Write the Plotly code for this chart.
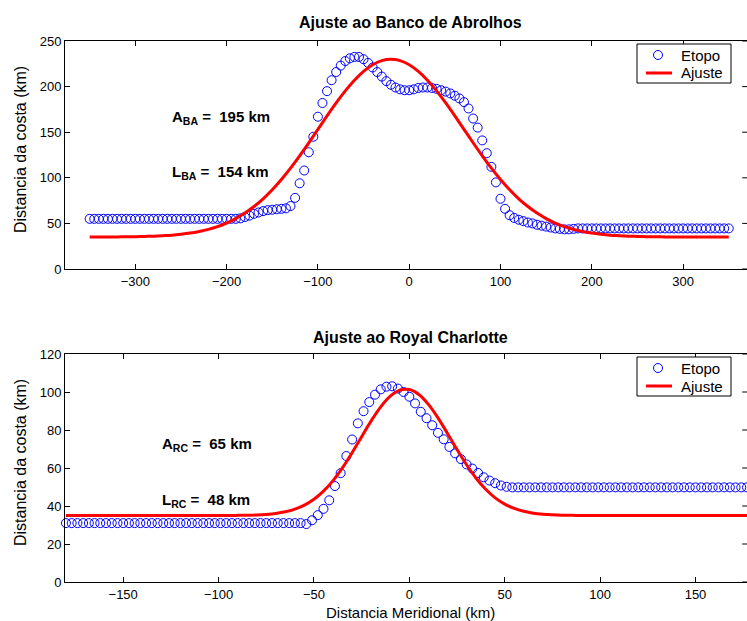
import plotly.graph_objects as go
from plotly.subplots import make_subplots

# ---------------- data ----------------
# Top panel: Banco de Abrolhos
etopo_ba_x = list(range(-350, 355, 5))
etopo_ba_y = ([55] * 33 +
              [55.5, 57, 58.5, 60.5, 62, 63.5, 64.5, 65, 65.5, 66, 66.5, 69,
               78, 94, 108, 128, 145, 167, 182, 195, 207, 216, 223, 228, 231,
               232.5, 232.5, 230, 226, 221, 216, 211, 206, 202, 199, 197, 196,
               196, 197, 198.5, 199, 199, 198.5, 197.5, 196, 194.5, 192.5, 190,
               187, 183, 176, 165, 155, 141, 127, 112, 95, 77, 66, 59, 56, 54,
               52.5, 51, 50, 48.5, 47.5, 46.5, 45.5, 44.5, 44, 43.5, 43.5, 44] +
              [44.5] * 34)

ajuste_ba_x = list(range(-350, 360, 10))
ajuste_ba_y = [35.0, 35.1, 35.1, 35.2, 35.3, 35.4, 35.7, 36.0, 36.5, 37.1, 38.1,
               39.4, 41.2, 43.5, 46.5, 50.4, 55.3, 61.3, 68.5, 77.0, 86.9, 98.1,
               110.6, 124.1, 138.4, 153.1, 167.9, 182.1, 195.3, 207.0, 216.7,
               224.0, 228.5, 230.0, 228.5, 224.0, 216.7, 207.0, 195.3, 182.1,
               167.9, 153.1, 138.4, 124.1, 110.6, 98.1, 86.9, 77.0, 68.5, 61.3,
               55.3, 50.4, 46.5, 43.5, 41.2, 39.4, 38.1, 37.1, 36.5, 36.0, 35.7,
               35.4, 35.3, 35.2, 35.1, 35.1, 35.0, 35.0, 35.0, 35.0, 35.0]

# Bottom panel: Royal Charlotte
etopo_rc_x = list(range(-180, 183, 3))
etopo_rc_y = ([31] * 42 +
              [30.5, 32.5, 35.2, 38.5, 43, 50.5, 57.3, 66.3, 75, 83.5, 89.9,
               94.7, 98.6, 101.4, 102.8, 103, 101.8, 100, 97.5, 94, 89.6, 86.2,
               82.5, 78.5, 75.1, 71.1, 67.7, 64.7, 61.9, 59.7, 57.4, 55.1, 53.4,
               52, 50.8, 50.1] +
              [49.8] * 43)

ajuste_rc_x = list(range(-180, 185, 5))
ajuste_rc_y = ([35.0] * 18 +
               [35.07, 35.14, 35.29, 35.58, 36.08, 36.94, 38.32, 40.44, 43.53,
                47.8, 53.36, 60.2, 68.06, 76.5, 84.8, 92.2, 97.8, 101.0, 101.3,
                98.7, 93.5, 86.4, 78.2, 69.7, 61.7, 54.6, 48.8, 44.3, 41.0, 38.7,
                37.2, 36.2, 35.66, 35.34, 35.17, 35.08, 35.03] +
               [35.0] * 18)

titles = ["Ajuste ao Banco de Abrolhos", "Ajuste ao Royal Charlotte"]
ylabel = "Distancia da costa (km)"
xlabel = "Distancia Meridional (km)"
legend_names = ["Etopo", "Ajuste"]
top_xticks = [-300, -200, -100, 0, 100, 200, 300]
top_yticks = [0, 50, 100, 150, 200, 250]
bot_xticks = [-150, -100, -50, 0, 50, 100, 150]
bot_yticks = [0, 20, 40, 60, 80, 100, 120]

# ---------------- figure ----------------
FONT = "Liberation Sans, Arial, Helvetica, sans-serif"
BLUE = "rgb(0,0,255)"
RED = "rgb(255,0,0)"

fig = make_subplots(rows=2, cols=1, vertical_spacing=0.0)

marker = dict(symbol="circle-open", size=9, color=BLUE, line=dict(width=1, color=BLUE))

fig.add_trace(go.Scatter(x=etopo_ba_x, y=etopo_ba_y, mode="markers", name=legend_names[0],
                         marker=marker, cliponaxis=False), row=1, col=1)
fig.add_trace(go.Scatter(x=ajuste_ba_x, y=ajuste_ba_y, mode="lines", name=legend_names[1],
                         line=dict(color=RED, width=3, shape="spline")), row=1, col=1)
fig.add_trace(go.Scatter(x=etopo_rc_x, y=etopo_rc_y, mode="markers", name=legend_names[0],
                         marker=marker, cliponaxis=False), row=2, col=1)
fig.add_trace(go.Scatter(x=ajuste_rc_x, y=ajuste_rc_y, mode="lines", name=legend_names[1],
                         line=dict(color=RED, width=3, shape="spline")), row=2, col=1)

# plot area geometry (page px): x 65..747, top panel y 41..269, bottom y 354..582
W, H = 747, 621
L, R, T, B = 65, 0, 41, 39
ph = H - T - B  # 541


def py2paper(py):
    return (H - B - py) / ph


def px2paper(px):
    return (px - L) / (W - L - R)


tickfont = dict(family=FONT, size=13, color="black")
xaxis_common = dict(showline=True, linecolor="black", linewidth=1, mirror="ticks",
                    ticks="inside", ticklen=5, tickwidth=1, tickcolor="black",
                    showgrid=False, zeroline=False, tickfont=tickfont)
yaxis_common = dict(showline=True, linecolor="black", linewidth=1, mirror=False,
                    ticks="inside", ticklen=5, tickwidth=1, tickcolor="black",
                    showgrid=False, zeroline=False, tickfont=tickfont)

fig.update_xaxes(**xaxis_common)
fig.update_yaxes(**yaxis_common)

fig.update_layout(
    xaxis=dict(range=[-377, 370], tickvals=top_xticks, domain=[0, 1]),
    yaxis=dict(range=[0, 250], tickvals=top_yticks,
               domain=[py2paper(269), py2paper(41)]),
    xaxis2=dict(range=[-180.5, 177.0], tickvals=bot_xticks, domain=[0, 1]),
    yaxis2=dict(range=[0, 120], tickvals=bot_yticks,
                domain=[py2paper(582), py2paper(354)]),
    width=W, height=H,
    margin=dict(l=L, r=R, t=T, b=B),
    paper_bgcolor="white", plot_bgcolor="white",
    font=dict(family=FONT, color="black"),
    showlegend=False,
)

shapes = []
ann = []

# right-edge inward tick marks (the right frame of the original is cropped away)
for yv in top_yticks:
    shapes.append(dict(type="line", xref="x domain", yref="y", x0=0.993, x1=1.0,
                       y0=yv, y1=yv, line=dict(color="black", width=1)))
for yv in bot_yticks:
    shapes.append(dict(type="line", xref="x2 domain", yref="y2", x0=0.993, x1=1.0,
                       y0=yv, y1=yv, line=dict(color="black", width=1)))

# legend boxes (MATLAB style): box, open-circle key, red line key, labels
for top in (44, 357):
    shapes.append(dict(type="rect", xref="paper", yref="paper",
                       x0=px2paper(637), x1=px2paper(731),
                       y0=py2paper(top + 39), y1=py2paper(top),
                       line=dict(color="black", width=1), fillcolor="white",
                       layer="above"))
    cy1, cy2 = top + 11, top + 29
    shapes.append(dict(type="circle", xref="paper", yref="paper",
                       xsizemode="pixel", ysizemode="pixel",
                       xanchor=px2paper(658), yanchor=py2paper(cy1),
                       x0=-4.5, x1=4.5, y0=-4.5, y1=4.5,
                       line=dict(color=BLUE, width=1), layer="above"))
    shapes.append(dict(type="line", xref="paper", yref="paper",
                       x0=px2paper(646), x1=px2paper(672),
                       y0=py2paper(cy2), y1=py2paper(cy2),
                       line=dict(color=RED, width=3), layer="above"))
    for name, cy in zip(legend_names, (cy1, cy2)):
        ann.append(dict(text=name, x=px2paper(679), y=py2paper(cy), xref="paper",
                        yref="paper", showarrow=False, xanchor="left",
                        yanchor="middle",
                        font=dict(family=FONT, size=15, color="black")))

fig.update_layout(shapes=shapes)

# titles
ann.append(dict(text="<b>" + titles[0] + "</b>", x=px2paper(410), y=py2paper(22),
                xref="paper", yref="paper", showarrow=False, xanchor="center",
                yanchor="middle", font=dict(family=FONT, size=16, color="black")))
ann.append(dict(text="<b>" + titles[1] + "</b>", x=px2paper(410), y=py2paper(337),
                xref="paper", yref="paper", showarrow=False, xanchor="center",
                yanchor="middle", font=dict(family=FONT, size=16, color="black")))
# y labels
for cy in (150, 463):
    ann.append(dict(text=ylabel, x=px2paper(20), y=py2paper(cy), xref="paper",
                    yref="paper", showarrow=False, textangle=-90, xanchor="center",
                    yanchor="middle", font=dict(family=FONT, size=16, color="black")))
# x label
ann.append(dict(text=xlabel, x=px2paper(410), y=py2paper(612), xref="paper",
                yref="paper", showarrow=False, xanchor="center", yanchor="middle",
                font=dict(family=FONT, size=15, color="black")))

# parameter annotations
sp = "\u00a0"
params = [
    ("A", "BA", "195", "x", "y", -262, 166),
    ("L", "BA", "154", "x", "y", -262, 106),
    ("A", "RC", "65", "x2", "y2", -130.7, 72.6),
    ("L", "RC", "48", "x2", "y2", -130.7, 42.9),
]
for sym, sub, val, xr, yr, xv, yv in params:
    ann.append(dict(text=f"<b>{sym}<sub>{sub}</sub>{sp}={sp}{sp}{val}{sp}km</b>",
                    x=xv, y=yv, xref=xr, yref=yr, showarrow=False,
                    xanchor="left", yanchor="middle",
                    font=dict(family=FONT, size=15, color="black")))

fig.update_layout(annotations=ann)

fig.write_html("out.html")
